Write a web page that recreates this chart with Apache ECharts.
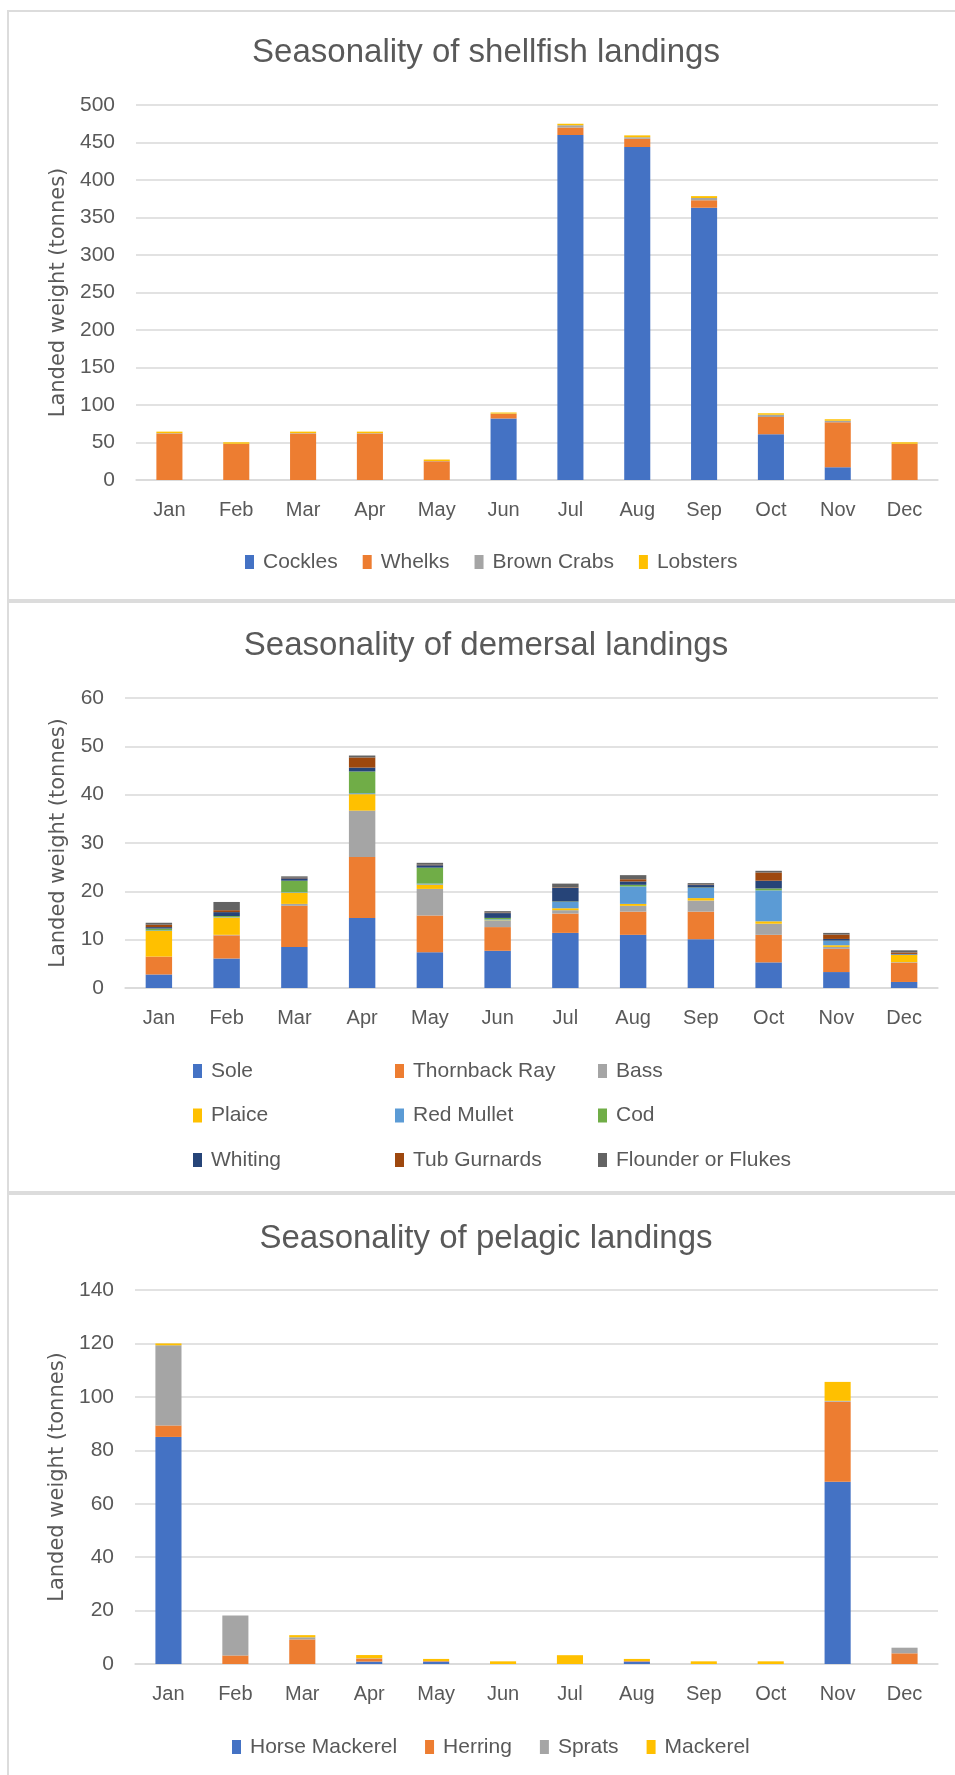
<!DOCTYPE html>
<html>
<head>
<meta charset="utf-8">
<script src="https://cdn.jsdelivr.net/npm/echarts@6/dist/echarts.min.js"></script>
<style>
html,body{margin:0;padding:0;background:#fff;}
#chart{width:955px;height:1775px;}
</style>
</head>
<body>
<div id="chart"></div>
<script>
// ---- Data ----
var months = ['Jan','Feb','Mar','Apr','May','Jun','Jul','Aug','Sep','Oct','Nov','Dec'];

// Shellfish (tonnes)
var cockles    = [0, 0, 0, 0, 0, 82, 460, 444, 363, 61, 17, 0];
var whelks     = [62, 48, 62, 62, 25, 6, 10, 11, 10, 23, 60, 48];
var brownCrabs = [0.5, 0.3, 0.5, 0.5, 0.3, 0.5, 3, 2, 3, 3, 2, 0.3];
var lobsters   = [2, 2, 2, 2, 2, 1.5, 2, 2.5, 2.5, 2, 2, 2];

// Demersal (tonnes)
var sole         = [2.8, 6.1, 8.5, 14.5, 7.4, 7.7, 11.4, 11.0, 10.1, 5.3, 3.3, 1.25];
var thornbackRay = [3.7, 4.8, 8.5, 12.6, 7.6, 4.9, 4.0, 4.8, 5.7, 5.7, 4.8, 4.0];
var bass         = [0, 0.1, 0.4, 9.6, 5.5, 1.3, 0.7, 1.2, 2.3, 2.3, 0.4, 0.1];
var plaice       = [5.3, 3.6, 2.3, 3.4, 0.9, 0.1, 0.4, 0.4, 0.5, 0.5, 0.35, 1.5];
var redMullet    = [0.1, 0.1, 0.1, 0.2, 0.2, 0.2, 1.3, 3.6, 2.1, 6.4, 0.9, 0.1];
var cod          = [0.4, 0.2, 2.4, 4.5, 3.3, 0.3, 0.1, 0.35, 0.1, 0.4, 0.05, 0];
var whiting      = [0.3, 0.8, 0.5, 0.8, 0.5, 1.0, 2.8, 0.7, 0.5, 1.6, 0.35, 0.1];
var tubGurnards  = [0.5, 0.4, 0.1, 2.1, 0.1, 0.1, 0.1, 0.45, 0.1, 1.7, 0.9, 0.3];
var flounder     = [0.4, 1.7, 0.3, 0.4, 0.4, 0.3, 0.8, 0.85, 0.3, 0.35, 0.35, 0.45];

// Pelagic (tonnes)
var horseMackerel = [85, 0, 0, 0.9, 0.9, 0, 0, 0.9, 0, 0, 68.2, 0];
var herring       = [4.3, 3.2, 9.2, 1.15, 0.2, 0, 0, 0.2, 0, 0, 30, 4.0];
var sprats        = [30, 15, 0.8, 0.1, 0, 0, 0, 0, 0, 0, 0.3, 2.1];
var mackerel      = [0.7, 0, 0.8, 1.2, 0.8, 1.0, 3.3, 0.8, 1.0, 1.0, 7.1, 0];

var titles = ['Seasonality of shellfish landings', 'Seasonality of demersal landings', 'Seasonality of pelagic landings'];
var yAxisName = 'Landed weight (tonnes)';

// ---- Styling ----
var TXT = '#595959';
var GRID = '#d9d9d9';
var FONT = '"Liberation Sans", Arial, sans-serif';

var chart = echarts.init(document.getElementById('chart'), null, {renderer: 'canvas'});

function mkSeries(name, data, color, idx, stack) {
  return {
    name: name, type: 'bar', stack: stack, data: data,
    xAxisIndex: idx, yAxisIndex: idx, barWidth: '39%',
    itemStyle: {color: color}, emphasis: {disabled: true}
  };
}

var grids = [
  {left: 136, right: 17, top: 105, height: 375},
  {left: 125, right: 17, top: 698, height: 290},
  {left: 135, right: 17, top: 1290, height: 374}
];
var yCfg = [
  {max: 500, interval: 50, gap: 67},
  {max: 60, interval: 10, gap: 56},
  {max: 140, interval: 20, gap: 66}
];

var xAxes = grids.map(function (g, i) {
  return {
    type: 'category', gridIndex: i, data: months,
    axisLine: {lineStyle: {color: GRID, width: 1.5}},
    axisTick: {show: false},
    axisLabel: {color: TXT, fontFamily: FONT, fontSize: 20, margin: 20}
  };
});
var yAxes = yCfg.map(function (c, i) {
  return {
    type: 'value', gridIndex: i, min: 0, max: c.max, interval: c.interval,
    name: yAxisName, nameLocation: 'middle', nameRotate: 90, nameGap: c.gap,
    nameTextStyle: {color: TXT, fontFamily: '"DejaVu Sans", sans-serif', fontSize: 21},
    axisLine: {show: false}, axisTick: {show: false},
    axisLabel: {color: TXT, fontFamily: FONT, fontSize: 21, margin: 21},
    splitLine: {lineStyle: {color: GRID, width: 1.5}}
  };
});

var C = {
  blue: '#4472C4', orange: '#ED7D31', gray: '#A5A5A5', yellow: '#FFC000',
  lblue: '#5B9BD5', green: '#70AD47', navy: '#264478', brown: '#9E480E', dgray: '#636363'
};

var series = [
  mkSeries('Cockles', cockles, C.blue, 0, 's1'),
  mkSeries('Whelks', whelks, C.orange, 0, 's1'),
  mkSeries('Brown Crabs', brownCrabs, C.gray, 0, 's1'),
  mkSeries('Lobsters', lobsters, C.yellow, 0, 's1'),

  mkSeries('Sole', sole, C.blue, 1, 's2'),
  mkSeries('Thornback Ray', thornbackRay, C.orange, 1, 's2'),
  mkSeries('Bass', bass, C.gray, 1, 's2'),
  mkSeries('Plaice', plaice, C.yellow, 1, 's2'),
  mkSeries('Red Mullet', redMullet, C.lblue, 1, 's2'),
  mkSeries('Cod', cod, C.green, 1, 's2'),
  mkSeries('Whiting', whiting, C.navy, 1, 's2'),
  mkSeries('Tub Gurnards', tubGurnards, C.brown, 1, 's2'),
  mkSeries('Flounder or Flukes', flounder, C.dgray, 1, 's2'),

  mkSeries('Horse Mackerel', horseMackerel, C.blue, 2, 's3'),
  mkSeries('Herring', herring, C.orange, 2, 's3'),
  mkSeries('Sprats', sprats, C.gray, 2, 's3'),
  mkSeries('Mackerel', mackerel, C.yellow, 2, 's3')
];

function mkLegend(names, left, top, orient, gap) {
  return {
    data: names, left: left, top: top, orient: orient || 'horizontal',
    itemWidth: 9, itemHeight: 14, itemGap: gap, padding: 0,
    selectedMode: false, icon: 'rect',
    textStyle: {color: TXT, fontFamily: FONT, fontSize: 21, lineHeight: 22, padding: [0, 0, 0, 4]}
  };
}

var legends = [
  mkLegend(['Cockles', 'Whelks', 'Brown Crabs', 'Lobsters'], 245, 551, 'horizontal', 25),
  mkLegend(['Sole', 'Plaice', 'Whiting'], 193, 1060, 'vertical', 22.5),
  mkLegend(['Thornback Ray', 'Red Mullet', 'Tub Gurnards'], 395, 1060, 'vertical', 22.5),
  mkLegend(['Bass', 'Cod', 'Flounder or Flukes'], 598, 1060, 'vertical', 22.5),
  mkLegend(['Horse Mackerel', 'Herring', 'Sprats', 'Mackerel'], 232, 1736, 'horizontal', 28)
];

var titleTops = [36, 629, 1222];
var titleOpts = titles.map(function (t, i) {
  return {
    text: t, left: 486, top: titleTops[i], textAlign: 'center', padding: 0,
    textStyle: {color: TXT, fontFamily: FONT, fontSize: 33, fontWeight: 'normal'}
  };
});

var BORDER = '#dcdcdc';
var graphics = [
  {type: 'rect', shape: {x: 7, y: 10, width: 2, height: 1765}, style: {fill: BORDER}, silent: true},
  {type: 'rect', shape: {x: 7, y: 10, width: 948, height: 2}, style: {fill: BORDER}, silent: true},
  {type: 'rect', shape: {x: 7, y: 599, width: 948, height: 4}, style: {fill: BORDER}, silent: true},
  {type: 'rect', shape: {x: 7, y: 1191, width: 948, height: 4}, style: {fill: BORDER}, silent: true}
];

chart.setOption({
  animation: false,
  backgroundColor: '#fff',
  title: titleOpts,
  legend: legends,
  grid: grids,
  xAxis: xAxes,
  yAxis: yAxes,
  series: series,
  graphic: graphics
});
</script>
</body>
</html>
